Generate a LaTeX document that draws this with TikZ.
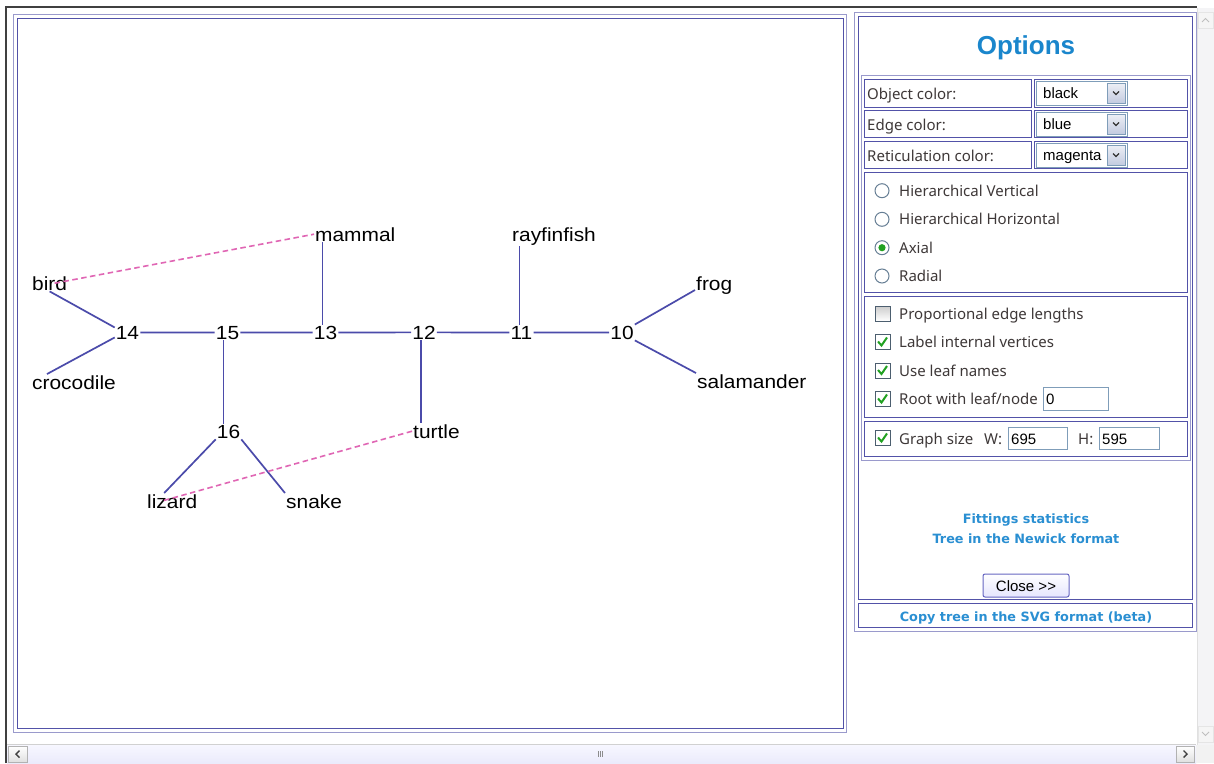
\documentclass[tikz,border=0pt]{standalone}
\usepackage{fontspec}
\setmainfont{Liberation Sans}
\newfontfamily\treefam[FakeStretch=1.1]{Liberation Sans}
\newfontfamily\notofam{Noto Sans}
\newfontfamily\linkfam{DejaVu Sans}
\newcommand\treefont{\treefam\fontsize{19}{19}\selectfont}
\newcommand\uifont{\notofam\fontsize{15}{16}\selectfont}
\newcommand\linkfont{\linkfam\bfseries\fontsize{12.8}{13}\selectfont}
\newcommand\selfont{\fontsize{15}{16}\selectfont}
\newcommand\titlefont{\bfseries\fontsize{26}{28}\selectfont}
\usetikzlibrary{calc}
\definecolor{edgeblue}{HTML}{4B4BAA}
\definecolor{reticmag}{HTML}{E066B4}
\definecolor{bordlight}{HTML}{9A9ACC}
\definecolor{borddark}{HTML}{5252A8}
\definecolor{titleblue}{HTML}{1A86CC}
\definecolor{linkblue}{HTML}{2A8FD2}
\definecolor{uitext}{HTML}{3E3838}
\definecolor{framegray}{HTML}{404040}
\definecolor{ctrlborder}{HTML}{7F9DB9}
\definecolor{btnfill}{HTML}{C3CBE0}
\definecolor{checkgreen}{HTML}{21A121}
\definecolor{scrolltrack}{HTML}{F4F4F6}
\tikzset{
  lbl/.style={font=\treefont, inner sep=1pt, text=black},
  leaf/.style={lbl, anchor=base west},
  num/.style={lbl, anchor=base},
  edge/.style={draw=edgeblue, line width=1.7pt},
  retic/.style={draw=reticmag, line width=1.6pt, dash pattern=on 5.5pt off 3.5pt},
  ui/.style={font=\uifont, text=uitext, inner sep=0pt, anchor=base west},
  sel/.style={font=\selfont, text=black, inner sep=0pt, anchor=base west},
  link/.style={font=\linkfont, text=linkblue, inner sep=0pt, anchor=base},
  outerb/.style={draw=bordlight, line width=1pt},
  innerb/.style={draw=borddark, line width=1pt},
  ctrl/.style={draw=ctrlborder, line width=1pt, fill=white},
  radio/.style={draw=ctrlborder!80!black, line width=1pt, fill=white},
  cbox/.style={draw=ctrlborder!60!black, line width=1pt, fill=white},
  tick/.style={draw=checkgreen, line width=2pt},
  chev/.style={draw=black!75, line width=1.4pt},
}
\begin{document}
\begin{tikzpicture}[x=1pt,y=-1pt]
\useasboundingbox (0,0) rectangle (1214,763);
\fill[white] (0,0) rectangle (1214,763);

% ---------- window frame and scrollbars ----------
\fill[scrolltrack] (1197,8) rectangle (1214,745);
\draw[draw=black!12] (1197,8) -- (1197,745);
\draw[draw=black!10, fill=black!4] (1198,12) rectangle (1213,28);
\draw[draw=black!25, line width=1pt] (1202,22) -- (1205.5,18.5) -- (1209,22);
\draw[draw=black!10, fill=black!4] (1198,726) rectangle (1213,742);
\draw[draw=black!25, line width=1pt] (1202,732) -- (1205.5,735.5) -- (1209,732);
\shade[top color=white!92!blue!40, bottom color=black!18!blue!8] (7,745) rectangle (1196,763);
\draw[draw=black!18] (7,744.5) -- (1196,744.5);
\fill[black!5] (1196,745) rectangle (1214,763);
\draw[draw=black!30, top color=white, bottom color=black!12] (8,746) rectangle (27,762);
\draw[chev] (19.5,750.5) -- (16,754) -- (19.5,757.5);
\draw[draw=black!30, top color=white, bottom color=black!12] (1176,746) rectangle (1194,762);
\draw[chev] (1183.5,750.5) -- (1187,754) -- (1183.5,757.5);
\draw[draw=black!45, line width=0.6pt] (598,751) -- (598,757) (600,751) -- (600,757) (602,751) -- (602,757);
\draw[draw=framegray, line width=2pt] (6,763) -- (6,7) -- (1197,7);

% ---------- graph panel ----------
\draw[outerb] (13,14) rectangle (846,732);
\draw[innerb] (17,18) rectangle (843,728);

% ---------- tree labels ----------
\node[num] (n14) at (127.5,339) {14};
\node[num] (n15) at (227.5,339) {15};
\node[num] (n13) at (325.5,339) {13};
\node[num] (n12) at (424,339) {12};
\node[num] (n11) at (521.5,339) {11};
\node[num] (n10) at (622,339) {10};
\node[num] (n16) at (228.5,438) {16};
\node[leaf] (mammal) at (314,241) {mammal};
\node[leaf] (rayfinfish) at (511,241) {rayfinfish};
\node[leaf] (frog) at (695,290) {frog};
\node[leaf] (salamander) at (696,388) {salamander};
\node[leaf] (bird) at (31,290) {bird};
\node[leaf] (crocodile) at (31,389) {crocodile};
\node[leaf] (turtle) at (412,438) {turtle};
\node[leaf] (lizard) at (146,508) {lizard};
\node[leaf] (snake) at (285,508) {snake};

% ---------- tree edges ----------
\draw[edge] (bird.south) -- ([yshift=5pt]n14.west);
\draw[edge] ([xshift=16pt]crocodile.north west) -- ([yshift=-5pt]n14.west);
\draw[edge] (n14) -- (n15);
\draw[edge] (n15) -- (n13);
\draw[edge] (n13) -- (n12);
\draw[edge] (n12) -- (n11);
\draw[edge] (n11) -- (n10);
\draw[edge] ([xshift=-3pt]n13.north) -- ([xshift=-3pt]n13.north |- mammal.south);
\draw[edge] ([xshift=-2pt]n11.north) -- ([xshift=-2pt]n11.north |- rayfinfish.south);
\draw[edge] ([xshift=-3pt]n12.south) -- ([xshift=-3pt]n12.south |- turtle.north);
\draw[edge] ([xshift=-4pt]n15.south) -- ([xshift=-5pt]n16.north);
\draw[edge] (n10.north east) -- (frog.base west);
\draw[edge] (n10.south east) -- (salamander.north west);
\draw[edge] (n16.south west) -- ([xshift=-8pt]lizard.north);
\draw[edge] (n16.south east) -- (snake.north west);

% ---------- reticulations ----------
\draw[retic] ([xshift=5pt]bird.center) -- (mammal.west);
\draw[retic] (turtle.west) -- ([xshift=-11pt]lizard.center);

% ---------- options panel ----------
\draw[outerb] (854,12) rectangle (1196,631);
\draw[innerb] (858,16) rectangle (1192,599);
\draw[innerb] (858,603) rectangle (1192,627);
\node[font=\titlefont, text=titleblue, anchor=base, inner sep=0pt] (title) at (1026,54) {Options};

\draw[outerb] (861,75) rectangle (1190,460);
% colour rows
\draw[innerb] (864,79) rectangle (1031,107);
\draw[innerb] (1034,79) rectangle (1187,107);
\draw[innerb] (864,110) rectangle (1031,137);
\draw[innerb] (1034,110) rectangle (1187,137);
\draw[innerb] (864,141) rectangle (1031,168);
\draw[innerb] (1034,141) rectangle (1187,168);
\node[ui] (lobj) at (867,99) {Object color:};
\node[ui] (ledge) at (867,130) {Edge color:};
\node[ui] (lret) at (867,161) {Reticulation color:};
\draw[ctrl] (1036,81) rectangle (1127,105);
\draw[ctrl] (1036,112) rectangle (1127,136);
\draw[ctrl] (1036,143) rectangle (1127,167);
\draw[draw=ctrlborder, top color=white!70!btnfill, bottom color=btnfill] (1107,83) rectangle (1125,103);
\draw[draw=ctrlborder, top color=white!70!btnfill, bottom color=btnfill] (1107,114) rectangle (1125,134);
\draw[draw=ctrlborder, top color=white!70!btnfill, bottom color=btnfill] (1107,145) rectangle (1125,165);
\draw[draw=black!80, line width=1.3pt] (1113,91.5) -- (1116,94.5) -- (1119,91.5);
\draw[draw=black!80, line width=1.3pt] (1113,122.5) -- (1116,125.5) -- (1119,122.5);
\draw[draw=black!80, line width=1.3pt] (1113,153.5) -- (1116,156.5) -- (1119,153.5);
\node[sel] (sobj) at (1043,98) {black};
\node[sel] (sedge) at (1043,129) {blue};
\node[sel] (sret) at (1043,160) {magenta};

% layout radios
\draw[innerb] (864,172) rectangle (1187,292);
\draw[radio] (882,190.7) circle (7pt);
\draw[radio] (882,219.3) circle (7pt);
\draw[radio] (882,247.7) circle (7pt);
\fill[checkgreen] (882,247.7) circle (3.6pt);
\draw[radio] (882,276) circle (7pt);
\node[ui] (r1) at (899,196) {Hierarchical Vertical};
\node[ui] (r2) at (899,224.5) {Hierarchical Horizontal};
\node[ui] (r3) at (899,253) {Axial};
\node[ui] (r4) at (899,281.5) {Radial};

% check boxes
\draw[innerb] (864,296) rectangle (1187,417);
\shade[top color=black!20, bottom color=white] (875,306) rectangle (890,321);
\draw[cbox, fill=none] (875,306) rectangle (890,321);
\draw[cbox] (875,334.5) rectangle (890,349.5);
\draw[tick] (878,341.5) -- (881.5,345.5) -- (887,337.5);
\draw[cbox] (875,363) rectangle (890,378);
\draw[tick] (878,370) -- (881.5,374) -- (887,366);
\draw[cbox] (875,391.5) rectangle (890,406.5);
\draw[tick] (878,398.5) -- (881.5,402.5) -- (887,394.5);
\node[ui] (c1) at (899,319) {Proportional edge lengths};
\node[ui] (c2) at (899,347.5) {Label internal vertices};
\node[ui] (c3) at (899,376) {Use leaf names};
\node[ui] (c4) at (899,404.5) {Root with leaf/node};
\draw[ctrl] (1043,387) rectangle (1108,410);
\node[sel] (vroot) at (1046,404) {0};

% graph size
\draw[innerb] (864,421) rectangle (1187,456);
\draw[cbox] (875,430.5) rectangle (890,445.5);
\draw[tick] (878,437.5) -- (881.5,441.5) -- (887,433.5);
\node[ui] (c5) at (899,444) {Graph size};
\node[ui] (lw) at (984,444) {W:};
\node[ui] (lh) at (1078,444) {H:};
\draw[ctrl] (1008,427) rectangle (1067,449);
\draw[ctrl] (1099,427) rectangle (1159,449);
\node[sel] (vw) at (1011,444) {695};
\node[sel] (vh) at (1102,444) {595};

% links and button
\node[link] (fit) at (1026,523) {Fittings statistics};
\node[link] (newick) at (1026,543) {Tree in the Newick format};
\draw[draw=black!40!blue!60, line width=1pt, rounded corners=2pt, top color=white, bottom color=black!6!blue!10] (983,574) rectangle (1069,597);
\node[sel, anchor=base] (close) at (1026,591) {Close {>}{>}};
\node[link] (svg) at (1026,621) {Copy tree in the SVG format (beta)};
\end{tikzpicture}
\end{document}
